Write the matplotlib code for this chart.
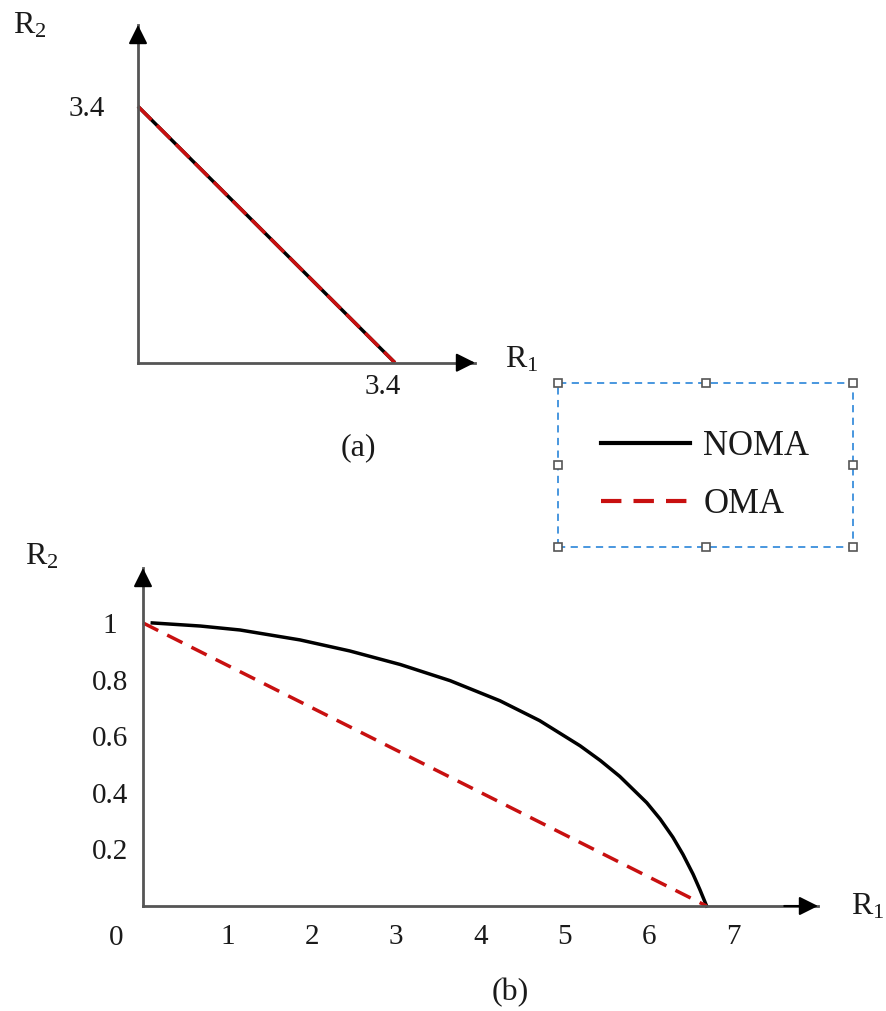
import numpy as np
import matplotlib.pyplot as plt
from matplotlib.patches import Rectangle
from matplotlib.lines import Line2D

plt.rcParams['font.family'] = ['Liberation Serif', 'DejaVu Serif']
plt.rcParams['mathtext.fontset'] = 'custom'
plt.rcParams['mathtext.rm'] = 'Liberation Serif'
plt.rcParams['mathtext.it'] = 'Liberation Serif:italic'
plt.rcParams['mathtext.default'] = 'regular'

# Daten (a): beide Verfahren identisch
a_r1 = [0.0, 3.4]
a_r2 = [3.4, 0.0]
a_ticks = [3.4]
a_ticklabels = ['3.4']

# Daten (b)
noma_r1 = [0.11, 0.68, 1.15, 1.86, 2.45, 3.05, 3.64, 4.23, 4.70, 5.18,
           5.42, 5.65, 5.97, 6.13, 6.28, 6.40, 6.52, 6.60, 6.68]
noma_r2 = [1.0, 0.989, 0.975, 0.940, 0.901, 0.853, 0.796, 0.725, 0.655,
           0.566, 0.514, 0.458, 0.365, 0.307, 0.243, 0.182, 0.112, 0.058, 0.0]
oma_r1 = [0.0, 6.68]
oma_r2 = [1.0, 0.0]
b_xticks = [1, 2, 3, 4, 5, 6, 7]
b_yticks = [0.2, 0.4, 0.6, 0.8, 1.0]
b_yticklabels = ['0.2', '0.4', '0.6', '0.8', '1']

W, H = 886, 1011
fig = plt.figure(figsize=(W / 100, H / 100), dpi=100)

RED = '#c81010'
AXC = '#555555'
TXT = '#1a1a1a'


def px_axes(left, top, right, bottom):
    return fig.add_axes([left / W, 1 - bottom / H, (right - left) / W, (bottom - top) / H])


def arrow_axes(ax):
    for s in ['top', 'right']:
        ax.spines[s].set_visible(False)
    for s in ['left', 'bottom']:
        ax.spines[s].set_color(AXC)
        ax.spines[s].set_linewidth(2)
    head = dict(arrowstyle='-|>,head_length=0.6,head_width=0.3', color='k',
                lw=1.5, mutation_scale=19, shrinkA=0, shrinkB=0)
    ax.annotate('', xy=(1, 0), xytext=(0.95, 0), xycoords='axes fraction',
                arrowprops=head, annotation_clip=False)
    ax.annotate('', xy=(0, 1), xytext=(0, 0.95), xycoords='axes fraction',
                arrowprops=head, annotation_clip=False)
    ax.tick_params(length=0, colors=TXT)


def fig_text(x, y, s, size=23, **kw):
    fig.text(x / W, 1 - y / H, s, fontsize=size, color=TXT,
             ha=kw.pop('ha', 'center'), va=kw.pop('va', 'center'), **kw)


# (a)
ax_a = px_axes(138, 25, 475, 362.7)
ax_a.plot(a_r1, a_r2, color='k', lw=2.5, solid_capstyle='butt', clip_on=False)
ax_a.plot(a_r1, a_r2, color=RED, lw=2.5, dashes=(5.5, 2.2), clip_on=False)
ax_a.set_xlim(0, 4.46)
ax_a.set_ylim(0, 4.48)
arrow_axes(ax_a)
ax_a.set_xticks([])
ax_a.set_yticks(a_ticks)
ax_a.set_yticklabels(a_ticklabels, fontsize=21)
ax_a.tick_params(axis='y', pad=37)
for lab in ax_a.get_yticklabels():
    lab.set_horizontalalignment('center')
ax_a.annotate(a_ticklabels[0], xy=(a_ticks[0], 0), xytext=(-8.5, -17.5),
              textcoords='offset points', fontsize=21, color=TXT,
              ha='center', va='center')

# (b)
ax_b = px_axes(143, 568, 818, 906)
l_noma, = ax_b.plot(noma_r1, noma_r2, color='k', lw=2.5, label='NOMA',
                    solid_joinstyle='round', clip_on=False)
l_oma, = ax_b.plot(oma_r1, oma_r2, color=RED, lw=2.5, dashes=(4.9, 2.9),
                   label='OMA', clip_on=False)
ax_b.set_xlim(0, 8.0)
ax_b.set_ylim(0, 1.194)
arrow_axes(ax_b)
ax_b.set_xticks(b_xticks)
ax_b.set_xticklabels([str(t) for t in b_xticks], fontsize=21)
ax_b.set_yticks(b_yticks)
ax_b.set_yticklabels(b_yticklabels, fontsize=21)
ax_b.tick_params(axis='x', pad=13)
ax_b.tick_params(axis='y', pad=24)
for lab in ax_b.get_yticklabels():
    lab.set_horizontalalignment('center')
ax_b.annotate('0', xy=(0, 0), xytext=(-19, -23), textcoords='offset points',
              fontsize=21, color=TXT, ha='center', va='center')

# Achsenbeschriftungen
fig_text(30, 26, r'$\mathrm{R}_2$')
fig_text(505, 360, r'$\mathrm{R}_1$', ha='left')
fig_text(358, 448, '(a)')
fig_text(41.5, 557, r'$\mathrm{R}_2$')
fig_text(851, 907, r'$\mathrm{R}_1$', ha='left')
fig_text(510, 993, '(b)')

# Legende mit Auswahlrahmen
leg = fig.legend(handles=[l_noma, l_oma], loc='center left',
                 bbox_to_anchor=(601 / W, 1 - 475.5 / H), frameon=False,
                 fontsize=25, handlelength=2.55, handletextpad=0.4,
                 labelspacing=0.72, borderpad=0, borderaxespad=0)
for t in leg.get_texts():
    t.set_color(TXT)
for h in leg.legend_handles:
    h.set_linewidth(3)

bx0, by0, bx1, by1 = 558.3, 383.3, 853.3, 546.7
fig.add_artist(Rectangle((bx0 / W, 1 - by1 / H), (bx1 - bx0) / W, (by1 - by0) / H,
                         transform=fig.transFigure, fill=False, ec='#3a8fdc',
                         lw=1.3, ls=(0, (4, 3))))
hx = [bx0, (bx0 + bx1) / 2, bx1]
hy = [by0, (by0 + by1) / 2, by1]
for xx in hx:
    for yy in hy:
        if xx == hx[1] and yy == hy[1]:
            continue
        fig.add_artist(Line2D([xx / W], [1 - yy / H], transform=fig.transFigure,
                              marker='s', ms=5.5, mfc='white', mec='#555555', mew=1.2))

fig.savefig('out.png', dpi=100)
